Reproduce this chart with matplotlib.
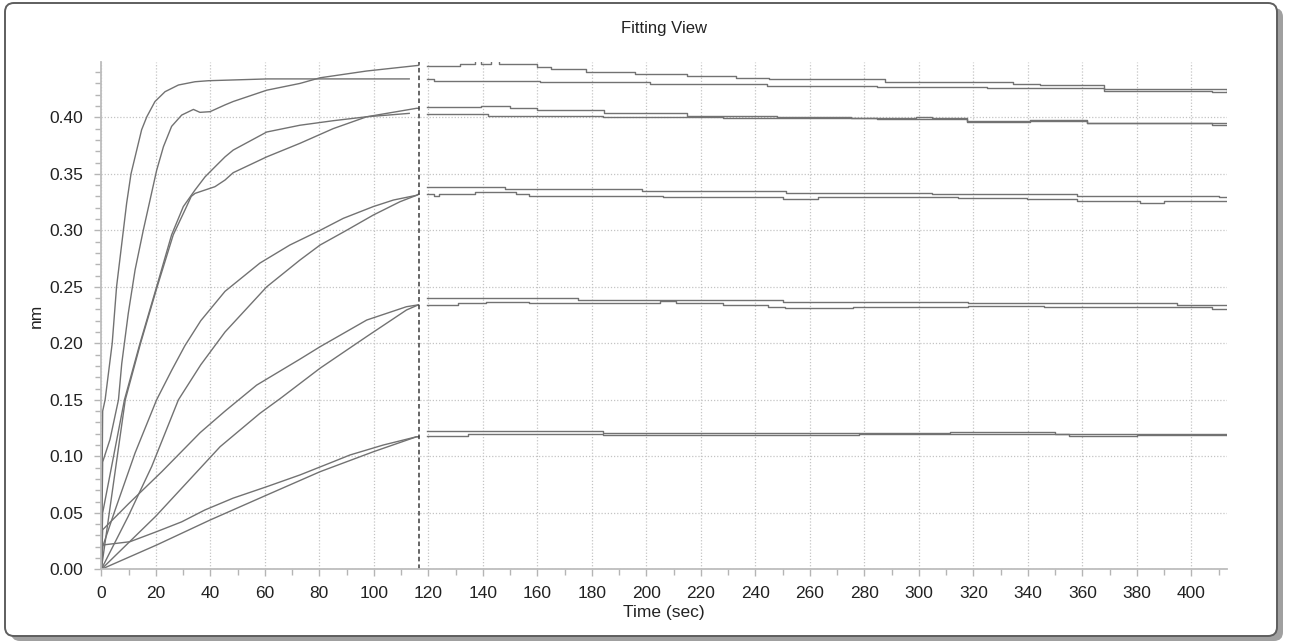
import numpy as np
import matplotlib
matplotlib.use("Agg")
import matplotlib.pyplot as plt
from matplotlib.patches import FancyBboxPatch
from matplotlib.ticker import MultipleLocator, FormatStrFormatter

# association phase (t in sec, response in nm)
assoc_t_1a = [0, 0.5, 1.4, 4.0, 5.6, 8.1, 9.3, 10.9, 13.0, 14.8, 16.7, 19.7, 23.4, 28.3, 34.4, 39.3, 61, 113]
assoc_nm_1a = [0, 0.140, 0.150, 0.200, 0.250, 0.300, 0.324, 0.350, 0.371, 0.389, 0.4005, 0.414, 0.4227, 0.4286, 0.4315, 0.4324, 0.434, 0.434]
assoc_t_1b = [0, 0.5, 3.2, 6.3, 7.5, 9.9, 12.4, 15.4, 17.9, 20.3, 22.8, 25.8, 29.5, 33.8, 36.2, 39.9, 45.4, 48.4, 60.7, 72.9, 80.3, 97.4, 116.5]
assoc_nm_1b = [0, 0.095, 0.115, 0.150, 0.182, 0.2265, 0.265, 0.300, 0.327, 0.353, 0.374, 0.392, 0.402, 0.407, 0.4044, 0.405, 0.411, 0.414, 0.424, 0.430, 0.435, 0.441, 0.446]
assoc_t_2a = [0, 0.5, 8.5, 14.2, 20.3, 25.8, 30.1, 34.4, 38.1, 42.9, 45.4, 48.4, 60.7, 72.9, 85.1, 97.4, 113]
assoc_nm_2a = [0, 0.050, 0.150, 0.200, 0.250, 0.296, 0.321, 0.3357, 0.3474, 0.359, 0.365, 0.371, 0.387, 0.393, 0.397, 0.4005, 0.4035]
assoc_t_2b = [0, 8.8, 14.4, 20.5, 26.4, 30.7, 33.0, 34.4, 38.1, 41.7, 45.4, 48.4, 60.7, 72.9, 85.1, 97.4, 115.7, 116.5]
assoc_nm_2b = [0, 0.150, 0.200, 0.250, 0.296, 0.318, 0.330, 0.3327, 0.3357, 0.3386, 0.3445, 0.351, 0.365, 0.377, 0.390, 0.4005, 0.408, 0.408]
assoc_t_3a = [0, 0.5, 5.0, 12.4, 20.3, 25.8, 30.7, 36.5, 45.4, 58.2, 69.2, 80.3, 88.8, 99.8, 107.2, 115.7, 116.5]
assoc_nm_3a = [0, 0.020, 0.052, 0.103, 0.150, 0.176, 0.198, 0.220, 0.246, 0.271, 0.287, 0.300, 0.3106, 0.321, 0.3268, 0.331, 0.332]
assoc_t_3b = [0, 9.9, 18.5, 28.3, 36.5, 45.4, 60.7, 72.9, 80.3, 90.0, 99.8, 109.6, 115.7, 116.5]
assoc_nm_3b = [0, 0.047, 0.091, 0.150, 0.181, 0.210, 0.250, 0.2737, 0.287, 0.300, 0.3135, 0.3253, 0.331, 0.332]
assoc_t_4a = [0, 0.5, 10.0, 22.2, 36.3, 45.4, 57.0, 72.9, 80.3, 97.4, 112.0, 116.3]
assoc_nm_4a = [0, 0.035, 0.058, 0.0864, 0.121, 0.140, 0.163, 0.186, 0.197, 0.2206, 0.2324, 0.234]
assoc_t_4b = [0, 20.0, 43.6, 58.2, 65.6, 80.3, 97.4, 112.0, 116.3]
assoc_nm_4b = [0, 0.047, 0.1085, 0.138, 0.151, 0.178, 0.206, 0.2295, 0.234]
assoc_t_5a = [0, 0.5, 10.5, 20.3, 29.5, 38.0, 48.4, 60.7, 72.9, 85.1, 91.3, 103.5, 115.7, 116.5]
assoc_nm_5a = [0, 0.0215, 0.0244, 0.0333, 0.0420, 0.0525, 0.0630, 0.0731, 0.0835, 0.0952, 0.1012, 0.110, 0.1173, 0.1173]
assoc_t_5b = [0, 20.3, 39.9, 60.7, 80.3, 99.8, 115.7, 116.5]
assoc_nm_5b = [0, 0.0215, 0.0436, 0.0657, 0.0864, 0.104, 0.1173, 0.1173]

# dissociation phase, stepped readout
dissoc_t_1a = [119.6, 131.6, 137.0, 139.5, 143.0, 146.0, 159.8, 165, 178, 196, 215, 233, 245, 287.6, 334.6, 344.5, 367.9, 413]
dissoc_nm_1a = [0.4457, 0.4470, 0.4505, 0.4470, 0.4505, 0.4470, 0.4445, 0.4428, 0.4404, 0.4383, 0.4365, 0.4350, 0.4336, 0.4315, 0.4295, 0.4286, 0.4248, 0.4236]
dissoc_t_1b = [119.6, 122, 161, 201.4, 244.2, 284.6, 325, 367.9, 407.5, 413]
dissoc_nm_1b = [0.4339, 0.4324, 0.4310, 0.4295, 0.4280, 0.4265, 0.4257, 0.4236, 0.4226, 0.4226]
dissoc_t_2a = [119.6, 139.4, 150, 160, 184.5, 215, 248, 275, 284.6, 317.6, 361.6, 407.5, 413]
dissoc_nm_2a = [0.4088, 0.4103, 0.4080, 0.4065, 0.4035, 0.4014, 0.4000, 0.3991, 0.3982, 0.3970, 0.3952, 0.3932, 0.3932]
dissoc_t_2b = [119.6, 142, 184, 228, 299, 305, 317.6, 340.8, 361.6, 407.5, 413]
dissoc_nm_2b = [0.4029, 0.4012, 0.4006, 0.3991, 0.4000, 0.3991, 0.3961, 0.3976, 0.3952, 0.3947, 0.3947]
dissoc_t_3a = [119.6, 148.3, 198.3, 251.3, 304.7, 357.9, 410, 413]
dissoc_nm_3a = [0.3380, 0.3363, 0.3348, 0.3333, 0.3318, 0.3306, 0.3292, 0.3292]
dissoc_t_3b = [119.6, 122, 124, 137, 152, 157, 206, 250, 263, 314.5, 339.6, 358, 381, 390, 413]
dissoc_nm_3b = [0.3321, 0.3303, 0.3321, 0.3336, 0.3318, 0.3303, 0.3292, 0.3274, 0.3292, 0.3283, 0.3274, 0.3262, 0.3244, 0.3262, 0.3262]
dissoc_t_4a = [119.6, 175, 250, 318, 394.6, 413]
dissoc_nm_4a = [0.2398, 0.2383, 0.2368, 0.2354, 0.2339, 0.2339]
dissoc_t_4b = [119.6, 131, 141, 157, 205, 211, 228, 244.8, 251, 276, 300, 318, 346, 407.5, 413]
dissoc_nm_4b = [0.2339, 0.2354, 0.2368, 0.2354, 0.2378, 0.2354, 0.2339, 0.2324, 0.2309, 0.2318, 0.2324, 0.2327, 0.2318, 0.2301, 0.2301]
dissoc_t_5a = [119.6, 184, 311.5, 350, 413]
dissoc_nm_5a = [0.1227, 0.1209, 0.1218, 0.1197, 0.1188]
dissoc_t_5b = [119.6, 134.7, 184, 278, 355, 380, 413]
dissoc_nm_5b = [0.1180, 0.1197, 0.1190, 0.1197, 0.1180, 0.1188, 0.1188]

step_time = 116.5

assoc = [(assoc_t_1a, assoc_nm_1a), (assoc_t_1b, assoc_nm_1b), (assoc_t_2a, assoc_nm_2a),
         (assoc_t_2b, assoc_nm_2b), (assoc_t_3a, assoc_nm_3a), (assoc_t_3b, assoc_nm_3b),
         (assoc_t_4a, assoc_nm_4a), (assoc_t_4b, assoc_nm_4b), (assoc_t_5a, assoc_nm_5a),
         (assoc_t_5b, assoc_nm_5b)]
dissoc = [(dissoc_t_1a, dissoc_nm_1a), (dissoc_t_1b, dissoc_nm_1b), (dissoc_t_2a, dissoc_nm_2a),
          (dissoc_t_2b, dissoc_nm_2b), (dissoc_t_3a, dissoc_nm_3a), (dissoc_t_3b, dissoc_nm_3b),
          (dissoc_t_4a, dissoc_nm_4a), (dissoc_t_4b, dissoc_nm_4b), (dissoc_t_5a, dissoc_nm_5a),
          (dissoc_t_5b, dissoc_nm_5b)]

plt.rcParams['font.family'] = ['Liberation Sans', 'DejaVu Sans']
fs = 12.5
txt = '#222222'

W, H = 1291, 642
fig = plt.figure(figsize=(W / 100, H / 100), dpi=100)
fig.patch.set_facecolor('white')

# window frame: shadow, gradient fill, border
bg = fig.add_axes([0, 0, 1, 1], zorder=0)
bg.set_xlim(0, W)
bg.set_ylim(H, 0)
bg.axis('off')
shadow = FancyBboxPatch((11, 8), 1272, 633, boxstyle="round,pad=0,rounding_size=9",
                        fc='#a0a0a0', ec='none')
bg.add_patch(shadow)
frame = FancyBboxPatch((5, 3), 1272, 633, boxstyle="round,pad=0,rounding_size=9",
                       fc='white', ec='none')
bg.add_patch(frame)
ys = np.linspace(3, 636, 634)
shade = np.clip((ys - 3) / 190.0, 0, 1)
grey = 0.88 + (1 - 0.88) * shade
grad = np.repeat(grey[:, None], 2, axis=1)
img = bg.imshow(grad, cmap='gray', vmin=0, vmax=1, extent=(5, 1277, 636, 3), aspect='auto')
img.set_clip_path(frame)
border = FancyBboxPatch((5, 3), 1272, 633, boxstyle="round,pad=0,rounding_size=9",
                        fc='none', ec='#5e5e5e', lw=1.4)
bg.add_patch(border)

ax = fig.add_axes([101.3 / W, 1 - 569.3 / H, (1227 - 101.3) / W, (569.3 - 62.3) / H], zorder=1)
ax.set_facecolor('none')

line_kw = dict(color='#727272', lw=1.0)
for t, v in assoc:
    ax.plot(t, v, **line_kw)
for t, v in dissoc:
    ax.plot(t, v, drawstyle='steps-post', **line_kw)

ax.axvline(step_time, color='#3c3c3c', lw=1.1, ls=(0, (3, 2)))

ax.set_xlim(0, 413.1)
ax.set_ylim(0, 0.4487)
ax.xaxis.set_major_locator(MultipleLocator(20))
ax.xaxis.set_minor_locator(MultipleLocator(10))
ax.yaxis.set_major_locator(MultipleLocator(0.05))
ax.yaxis.set_minor_locator(MultipleLocator(0.01))
ax.yaxis.set_major_formatter(FormatStrFormatter('%.2f'))
ax.grid(True, which='major', color='#c4c4c4', ls=(0, (1, 1.5)), lw=0.9)
for s in ['top', 'right']:
    ax.spines[s].set_visible(False)
for s in ['left', 'bottom']:
    ax.spines[s].set_color('#bdbdbd')
    ax.spines[s].set_linewidth(1.3)
ax.tick_params(which='both', color='#b5b5b5', width=1, labelsize=fs, labelcolor=txt)
ax.tick_params(which='major', length=5)
ax.tick_params(which='minor', length=4)
ax.tick_params(axis='x', which='major', pad=7)
ax.tick_params(axis='y', which='major', pad=8)

ax.set_xlabel('Time (sec)', fontsize=fs, color=txt, labelpad=3)
ax.set_ylabel('nm', fontsize=fs, color=txt, labelpad=4)
fig.text(664 / W, 1 - 28 / H, 'Fitting View', ha='center', va='center', fontsize=fs - 0.5, color=txt)

fig.savefig('out.png', dpi=100)
